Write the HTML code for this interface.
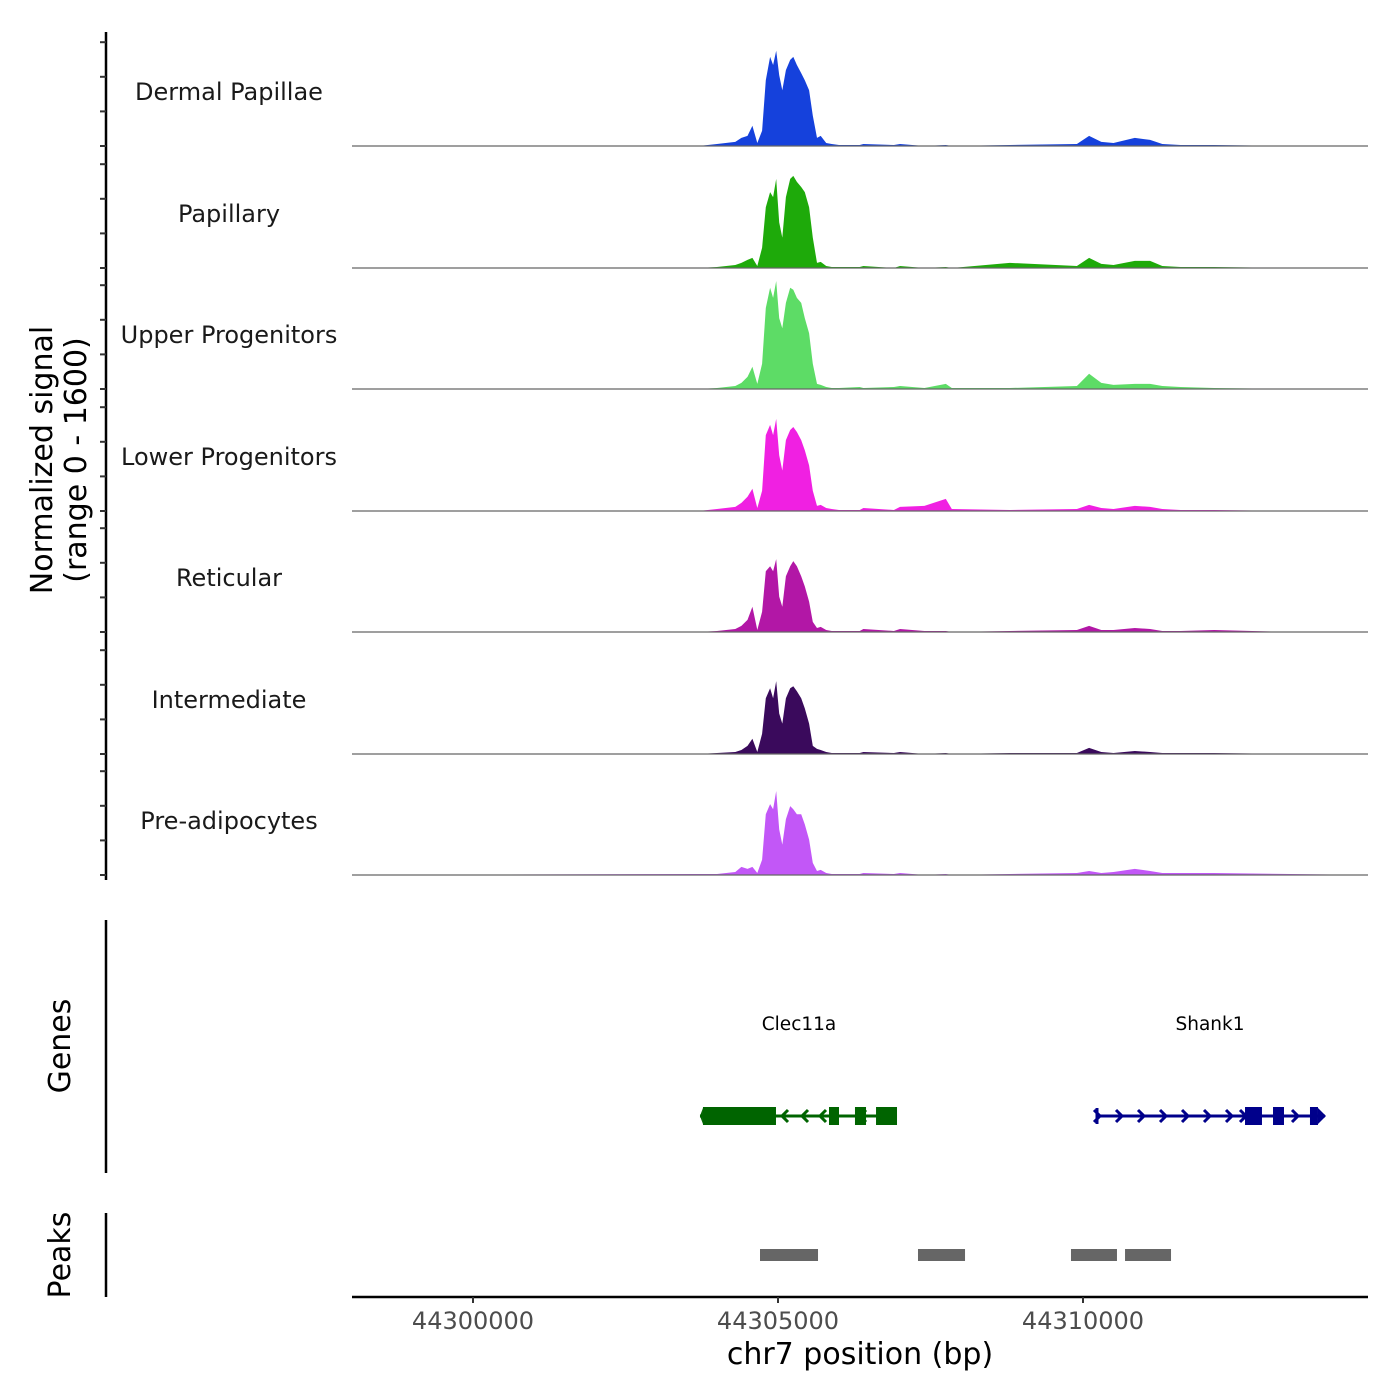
<!DOCTYPE html>
<html><head><meta charset="utf-8"><style>
html,body{margin:0;padding:0;background:#fff;}
svg{display:block;font-family:"DejaVu Sans","Liberation Sans",sans-serif;}
</style></head><body>
<svg id="chart" width="1400" height="1400" viewBox="0 0 1400 1400"></svg>
<script>
const positions=[44298000,44303700,44304000,44304300,44304400,44304500,44304580,44304660,44304740,44304800,44304870,44304920,44304970,44305020,44305070,44305130,44305200,44305250,44305310,44305380,44305440,44305510,44305570,44305640,44305700,44305790,44305880,44306000,44306340,44306400,44306900,44307000,44307400,44307750,44307850,44308800,44309900,44310100,44310300,44310500,44310850,44311100,44311300,44311600,44312150,44313400,44314700];
const trackNames=["Dermal Papillae","Papillary","Upper Progenitors","Lower Progenitors","Reticular","Intermediate","Pre-adipocytes"];
const trackColors=["#1541dc","#1eaa0a","#5ddc66","#f020e2","#b217a6","#3a0a5c","#c257f7"];
const sigDP=[0,0,30,60,120,150,300,45,225,975,1320,1200,1410,1050,825,1125,1275,1320,1200,1080,975,825,450,120,150,45,30,15,15,30,15,30,0,15,0,15,30,150,60,45,120,90,30,15,15,0,0];
const sigPap=[0,0,15,45,75,120,150,30,300,900,1125,1050,1320,675,450,1050,1320,1365,1275,1200,1125,900,450,75,90,30,15,15,15,30,0,30,0,15,0,75,30,150,60,45,105,105,30,15,15,0,0];
const sigUP=[0,0,15,45,90,180,330,75,375,1200,1500,1350,1600,1050,900,1275,1500,1470,1350,1275,1050,825,375,75,60,30,15,15,30,15,30,45,15,75,15,15,45,225,90,60,75,75,45,30,15,0,0];
const sigLP=[0,0,30,60,120,210,330,45,300,1125,1275,1125,1365,825,600,1050,1200,1245,1170,1050,900,675,300,75,90,45,30,15,15,45,15,60,75,180,30,15,30,90,45,30,75,60,30,15,15,0,0];
const sigRet=[0,0,15,45,90,180,375,30,300,900,975,900,1080,525,375,825,975,1050,975,825,675,450,150,60,75,30,15,15,15,45,15,45,15,15,0,15,30,90,30,30,60,45,15,15,30,0,0];
const sigInt=[0,0,15,30,60,120,225,30,300,825,975,825,1080,600,450,825,975,1005,930,825,675,450,120,75,60,30,15,15,15,30,15,30,0,15,0,15,15,90,30,15,45,30,15,15,15,0,0];
const sigPre=[0,15,15,45,120,90,120,30,225,900,1050,975,1245,675,450,825,1020,975,900,900,750,525,180,60,75,30,15,15,15,30,15,30,0,15,0,15,30,60,30,45,90,60,30,30,30,15,0];
const xTicks=[44300000,44305000,44310000];
const peakStarts=[44304705,44307295,44309803,44310689];
const peakEnds=[44305656,44308066,44310557,44311443];

const NS="http://www.w3.org/2000/svg";
const svg=document.getElementById('chart');
function mk(tag,attrs,parent){const e=document.createElementNS(NS,tag);for(const k in attrs)e.setAttribute(k,attrs[k]);(parent||svg).appendChild(e);return e;}
const X0=352,X1=1368;
function xs(bp){return 473+(bp-44300000)*0.061;}
const baselines=[146,268,389,511,632,754,875];
function ys(v,b){return b-v/1600*108;}
const allSig=[sigDP,sigPap,sigUP,sigLP,sigRet,sigInt,sigPre];

let ax=mk('line',{x1:106,y1:32,x2:106,y2:880,stroke:'#000','stroke-width':2.5});


for(let t=0;t<7;t++){
  for(let k=0;k<4;k++){
    const y=baselines[t]-k*34.6;
    const tk=mk('line',{x1:100,y1:y,x2:106,y2:y,stroke:'#333','stroke-width':2});
    
    
  }
}
let yt=mk('text',{x:0,y:0,'font-size':30,'text-anchor':'middle',transform:'translate(52,460) rotate(-90)',fill:'#000'});
yt.textContent='Normalized signal';


let yt2=mk('text',{x:0,y:0,'font-size':30,'text-anchor':'middle',transform:'translate(86,460) rotate(-90)',fill:'#000'});
yt2.textContent='(range 0 - 1600)';



for(let t=0;t<7;t++){
  const b=baselines[t],s=allSig[t];
  let d='M'+X0+','+b;
  for(let i=0;i<positions.length;i++){d+=' L'+xs(positions[i]).toFixed(1)+','+ys(s[i],b).toFixed(1);}
  d+=' L'+X1+','+b+' Z';
  const p=mk('path',{d:d,fill:trackColors[t]});
  
  
  const bl=mk('line',{x1:X0,y1:b,x2:X1,y2:b,stroke:'#666','stroke-width':1.2});
  
  
  const lb=mk('text',{x:229,y:b-46,'font-size':24,'text-anchor':'middle',fill:'#1a1a1a'});
  lb.textContent=trackNames[t];
  
  
}

let ga=mk('line',{x1:106,y1:920,x2:106,y2:1173,stroke:'#000','stroke-width':2.5});


let gt=mk('text',{x:0,y:0,'font-size':30,'text-anchor':'middle',transform:'translate(70,1046) rotate(-90)'});
gt.textContent='Genes';


function geneLabel(txt,x){const e=mk('text',{x:x,y:1030,'font-size':18.5,'text-anchor':'middle',fill:'#000'});e.textContent=txt;return e;}
let g1=geneLabel('Clec11a',799);


let g2=geneLabel('Shank1',1210);


const gy=1116;
const cg=mk('g',{});


mk('line',{x1:xs(44303721),y1:gy,x2:xs(44306951),y2:gy,stroke:'#006400','stroke-width':3},cg);
[[44303770,44304967],[44305836,44306000],[44306262,44306443],[44306607,44306951]].forEach(e=>mk('rect',{x:xs(e[0]),y:gy-9,width:xs(e[1])-xs(e[0]),height:18,fill:'#006400'},cg));
mk('path',{d:`M${xs(44303770)},${gy-8} L${xs(44303721)},${gy} L${xs(44303770)},${gy+8}Z`,fill:'#006400'},cg);
[782,802,820,860,880].forEach(x=>mk('path',{d:`M${x+6},${gy-6} L${x},${gy} L${x+6},${gy+6}`,stroke:'#006400','stroke-width':3,fill:'none'},cg));
const sg=mk('g',{});


mk('line',{x1:xs(44310230),y1:gy,x2:xs(44313967),y2:gy,stroke:'#00008b','stroke-width':3},sg);
mk('line',{x1:1097,y1:gy-8,x2:1097,y2:gy+8,stroke:'#00008b','stroke-width':3},sg);
[[44312656,44312934],[44313115,44313295],[44313721,44313852]].forEach(e=>mk('rect',{x:xs(e[0]),y:gy-9,width:xs(e[1])-xs(e[0]),height:18,fill:'#00008b'},sg));
mk('path',{d:`M1318,${gy-8} L1326,${gy} L1318,${gy+8}Z`,fill:'#00008b'},sg);
[1094,1116,1138,1160,1182,1204,1226,1240,1292].forEach(x=>mk('path',{d:`M${x},${gy-6} L${x+6},${gy} L${x},${gy+6}`,stroke:'#00008b','stroke-width':3,fill:'none'},sg));

let pa=mk('line',{x1:106,y1:1213,x2:106,y2:1297,stroke:'#000','stroke-width':2.5});


let pt=mk('text',{x:0,y:0,'font-size':30,'text-anchor':'middle',transform:'translate(70,1255) rotate(-90)'});
pt.textContent='Peaks';


for(let i=0;i<peakStarts.length;i++){
  const r=mk('rect',{x:xs(peakStarts[i]),y:1249,width:xs(peakEnds[i])-xs(peakStarts[i]),height:12,fill:'#666'});
  
  
}

let xa=mk('line',{x1:X0,y1:1297,x2:X1,y2:1297,stroke:'#000','stroke-width':2.5});


xTicks.forEach(v=>{
  const x=xs(v);
  const tk=mk('line',{x1:x,y1:1297,x2:x,y2:1303,stroke:'#333','stroke-width':2});
  
  
  const tl=mk('text',{x:x,y:1329,'font-size':24,'text-anchor':'middle',fill:'#4d4d4d'});
  tl.textContent=String(v);
  
  
});
let xt=mk('text',{x:860,y:1364,'font-size':30,'text-anchor':'middle',fill:'#000'});
xt.textContent='chr7 position (bp)';


</script>
</body></html>
